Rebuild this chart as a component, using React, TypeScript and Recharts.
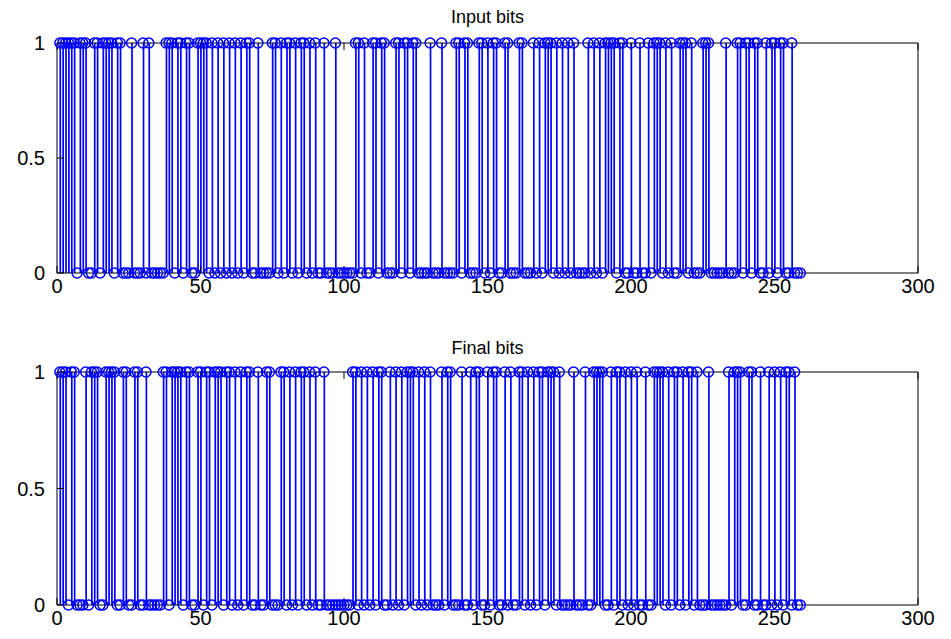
import React from 'react';
import { ComposedChart, Bar, Scatter, XAxis, YAxis } from 'recharts';

// bit positions 1..259, stems drawn at every index whose bit is 1
const bitCount = 259;
const xTicks = [0, 50, 100, 150, 200, 250, 300];
const yTicks = [0, 0.5, 1];

const inputOnes = [
  1, 2, 3, 4, 5, 6, 8, 9, 10, 13, 14, 16, 17, 18, 19, 21, 22, 26, 30, 32, 38, 39, 40, 42, 43, 45, 46, 49, 50,
  51, 52, 54, 56, 58, 60, 62, 64, 66, 67, 70, 75, 76, 78, 80, 81, 83, 85, 86, 88, 90, 93, 97, 104, 105, 107,
  110, 111, 113, 114, 118, 119, 121, 122, 124, 125, 130, 134, 139, 140, 142, 143, 147, 148, 150, 152, 153,
  156, 157, 161, 162, 166, 168, 170, 171, 172, 174, 176, 178, 180, 185, 187, 189, 191, 192, 193, 194, 196,
  197, 200, 203, 206, 208, 209, 210, 212, 214, 217, 218, 219, 221, 225, 226, 227, 233, 237, 238, 240, 241,
  243, 244, 247, 249, 250, 252, 253, 256,
];

const finalOnes = [
  1, 2, 3, 5, 6, 10, 12, 13, 14, 17, 18, 19, 20, 23, 24, 27, 28, 31, 37, 38, 40, 41, 42, 43, 45, 46, 49, 50,
  52, 53, 55, 56, 57, 59, 60, 62, 64, 66, 67, 70, 73, 74, 78, 79, 81, 83, 85, 86, 88, 90, 93, 103, 104, 106,
  108, 110, 112, 113, 116, 118, 120, 122, 123, 124, 126, 128, 130, 134, 136, 137, 141, 144, 146, 147, 150,
  152, 153, 156, 158, 161, 162, 164, 166, 168, 169, 171, 172, 173, 175, 180, 184, 187, 188, 189, 190, 193,
  195, 196, 198, 200, 202, 205, 208, 209, 210, 211, 213, 215, 216, 218, 220, 221, 223, 227, 234, 236, 237,
  238, 241, 242, 245, 248, 250, 252, 254, 255, 257,
];

const FONT = '"Liberation Sans", Arial, Helvetica, sans-serif';
const BLUE = '#0000ff';

const toPoints = (ones: number[]) =>
  Array.from({ length: bitCount }, (_, i) => ({ x: i + 1, bit: ones.includes(i + 1) ? 1 : 0 }));

const StemMarker = (props: any) => (
  <circle cx={props.cx} cy={props.cy} r={5} fill="none" stroke={BLUE} strokeWidth={1.5} />
);

interface PanelProps {
  title: string;
  ones: number[];
  height: number;
  marginTop: number;
  marginBottom: number;
  titleTop: number;
}

const BitPanel: React.FC<PanelProps> = ({ title, ones, height, marginTop, marginBottom, titleTop }) => {
  const points = toPoints(ones);
  const tickStyle = { fill: '#000', fontSize: 20, fontFamily: FONT };
  const line = { stroke: '#000', strokeWidth: 1 };
  return (
    <div style={{ position: 'relative', width: 951, height }}>
      <div
        style={{
          position: 'absolute',
          left: 57,
          width: 861,
          top: titleTop,
          textAlign: 'center',
          fontSize: 18,
          fontFamily: FONT,
          color: '#000',
        }}
      >
        {title}
      </div>
      <ComposedChart
        width={951}
        height={height}
        data={points}
        margin={{ top: marginTop, right: 32, bottom: marginBottom, left: 0 }}
      >
        <XAxis
          dataKey="x"
          type="number"
          domain={[0, 300]}
          ticks={xTicks}
          height={30}
          axisLine={line}
          tickLine={line}
          tickSize={-7}
          tickMargin={13}
          tick={tickStyle}
          interval={0}
        />
        <XAxis
          xAxisId="top"
          orientation="top"
          dataKey="x"
          type="number"
          domain={[0, 300]}
          ticks={xTicks}
          height={1}
          axisLine={line}
          tickLine={line}
          tickSize={-7}
          tickFormatter={() => ''}
          interval={0}
        />
        <YAxis
          type="number"
          domain={[0, 1]}
          ticks={yTicks}
          width={57}
          axisLine={line}
          tickLine={line}
          tickSize={-7}
          tickMargin={19}
          tick={tickStyle}
          interval={0}
        />
        <YAxis
          yAxisId="right"
          orientation="right"
          type="number"
          domain={[0, 1]}
          ticks={yTicks}
          width={1}
          axisLine={line}
          tickLine={line}
          tickSize={-7}
          tickFormatter={() => ''}
          interval={0}
        />
        <Bar dataKey="bit" fill={BLUE} barSize={1.7} isAnimationActive={false} />
        <Scatter data={points} dataKey="bit" shape={<StemMarker />} isAnimationActive={false} />
      </ComposedChart>
    </div>
  );
};

export default function App() {
  return (
    <div style={{ position: 'absolute', left: 0, top: 0, width: 951, height: 639, background: '#fff' }}>
      <BitPanel title="Input bits" ones={inputOnes} height={310} marginTop={42} marginBottom={7} titleTop={7} />
      <BitPanel title="Final bits" ones={finalOnes} height={329} marginTop={61} marginBottom={4} titleTop={28} />
    </div>
  );
}
